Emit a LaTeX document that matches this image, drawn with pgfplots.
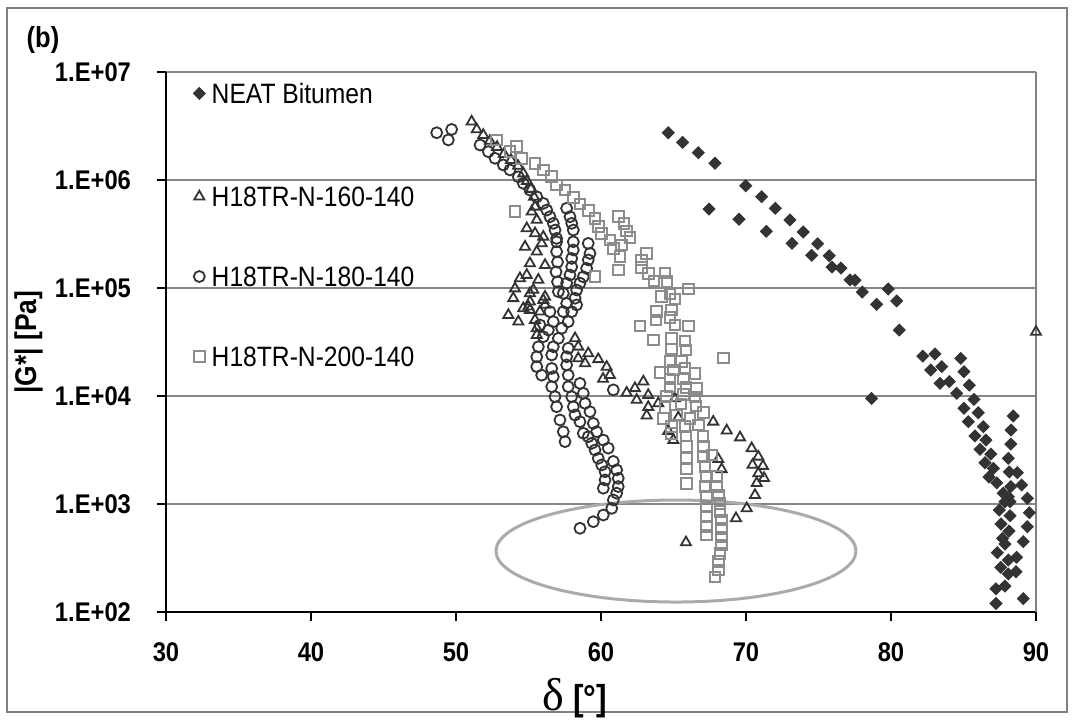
\documentclass[border=0pt]{standalone}
\usepackage{fontspec}
\setmainfont{Liberation Sans}[FakeStretch=0.88]
\newfontfamily\seriffont{Liberation Serif}
\usepackage{pgfplots}
\pgfplotsset{compat=1.18}
\definecolor{dk}{RGB}{51,51,51}
\definecolor{sq}{RGB}{140,140,140}
\definecolor{grd}{RGB}{134,134,134}
\definecolor{ell}{RGB}{170,170,170}
\definecolor{frm}{RGB}{128,128,128}
\pgfplotsset{
  mylegend/.style={
    legend style={draw=none, fill=none, anchor=north west,
      font=\fontsize{14}{16}\selectfont, row sep=30pt,
      nodes={text height=10pt, text depth=0pt, inner ysep=0pt, inner xsep=2.5pt}},
    legend cell align=left,
    legend image code/.code={\path (0pt,0pt) (7.5pt,0pt); \draw[##1] plot coordinates {(4pt,0pt)};},
  }
}
\begin{document}
\begin{tikzpicture}
\useasboundingbox (-83pt,-54pt) rectangle (454.5pt,306pt);
\draw[frm, line width=0.6pt] (-79.5pt,-50pt) rectangle (450.5pt,302pt);
\node[font=\bfseries\fontsize{14.5}{16}\selectfont] at (-61.5pt,286pt) {(b)};
\begin{axis}[
  at={(0pt,0pt)}, anchor=south west,
  width=435pt, height=270pt, scale only axis,
  xmin=30, xmax=90, ymin=100, ymax=1e7, ymode=log,
  xtick={30,40,50,60,70,80,90},
  xticklabels={30,40,50,60,70,80,90},
  ytick={1e2,1e3,1e4,1e5,1e6,1e7},
  yticklabels={1.E+02,1.E+03,1.E+04,1.E+05,1.E+06,1.E+07},
  yminorticks=false, xminorticks=false,
  ymajorgrids, major grid style={grd, line width=0.9pt},
  axis line style={draw=none},
  tick align=outside, xtick pos=left, ytick pos=left,
  major tick length=4.5pt, tick style={black, line width=1.2pt},
  tick label style={font=\bfseries\fontsize{13.5}{15}\selectfont},
  yticklabel style={xshift=-9.5pt},
  xticklabel style={yshift=-7.5pt},
  clip=false,
  every axis x label/.style={at={(axis description cs:0.470,-0.159)}, anchor=center},
  every axis y label/.style={at={(axis description cs:-0.158,0.5)}, rotate=90, anchor=center},
  xlabel={{\seriffont\mdseries\fontsize{23}{26}\selectfont δ} [°]},
  xlabel style={font=\bfseries\fontsize{18}{21}\selectfont},
  ylabel={|G*| [Pa]},
  ylabel style={font=\bfseries\fontsize{15}{17}\selectfont},
  mylegend,
  legend style={at={(axis description cs:0.0213,0.7961)}},
]
\addplot[forget plot, only marks, mark=square*, mark size=2.12pt, mark options={rotate=45, fill=dk, draw=dk}] coordinates {
(64.64,2.74e6)(65.63,2.23e6)(66.71,1.79e6)(67.86,1.43e6)(69.98,8.85e5)(71.08,7.0e5)(72.02,5.47e5)(73.03,4.27e5)(73.95,3.30e5)(74.94,2.57e5)(75.74,1.99e5)(76.55,1.53e5)(77.17,1.19e5)(77.52,1.18e5)(78.02,9.18e4)(79.81,9.8e4)(79.01,7.06e4)(80.39,7.59e4)(80.57,4.08e4)(67.45,5.38e5)(69.52,4.33e5)(71.40,3.35e5)(73.17,2.59e5)(74.53,2.01e5)(75.93,1.56e5)(78.66,9.5e3)
(82.19,2.34e4)(83.03,2.45e4)(84.81,2.23e4)(82.74,1.74e4)(83.50,1.87e4)(85.03,1.68e4)(83.38,1.31e4)(84.02,1.36e4)(85.40,1.26e4)(84.53,1.06e4)(85.72,9.3e3)(85.03,7.7e3)(86.02,7.0e3)(85.33,5.78e3)(86.37,5.2e3)(85.79,4.27e3)(86.55,3.91e3)(86.14,3.21e3)(86.88,2.9e3)(86.48,2.41e3)(87.06,2.14e3)(86.76,1.78e3)(87.29,1.57e3)
(88.43,6.53e3)(88.28,4.84e3)(88.26,3.59e3)(88.09,2.65e3)(88.16,1.98e3)(88.71,1.95e3)(89.01,1.50e3)(88.26,1.45e3)(87.74,1.26e3)(88.09,1.17e3)(89.40,1.13e3)(87.86,1.05e3)(88.21,1.05e3)(89.54,830)(87.47,880)(88.21,780)(89.40,617)(87.59,653)(88.14,562)(87.70,481)(89.12,448)(87.86,426)(87.33,354)(88.66,321)(88.09,303)(87.57,259)(88.62,236)(88.09,225)(87.86,174)(87.24,164)(87.24,120)(89.12,133)
};
\addplot[only marks, mark=triangle, mark size=2.9pt, mark options={draw=dk, line width=0.9pt}] coordinates {
(51.08,3.47e6)(51.43,2.94e6)(51.88,2.61e6)(52.34,2.30e6)(52.83,2.02e6)(53.31,1.74e6)(53.79,1.53e6)(54.28,1.35e6)(54.64,1.15e6)(54.90,9.8e5)(55.17,8.26e5)(55.38,6.97e5)(55.45,5.66e5)(55.22,5.09e5)(55.57,4.27e5)(54.88,3.57e5)(55.45,3.21e5)(56.02,2.98e5)(55.91,2.59e5)(54.76,2.41e5)(55.57,2.17e5)(55.10,1.69e5)(56.14,1.63e5)(54.88,1.32e5)(54.41,1.23e5)(55.68,1.19e5)(54.07,9.9e4)(55.33,9.6e4)(55.10,8.93e4)(56.14,8.3e4)(53.95,8.04e4)(56.02,7.74e4)(55.10,7.47e4)(56.14,6.97e4)(54.99,6.72e4)(54.64,6.49e4)(55.10,6.26e4)(55.79,6.04e4)(53.61,5.62e4)(54.30,4.88e4)(55.45,5.06e4)(55.57,4.24e4)(55.57,3.67e4)
(58.21,3.42e4)(58.43,2.86e4)(58.43,2.23e4)(59.12,2.48e4)(59.81,2.19e4)(58.90,2.01e4)(60.39,1.86e4)(60.62,1.56e4)(60.14,1.44e4)(61.77,1.07e4)(62.34,1.18e4)(62.92,1.36e4)(62.46,9.2e3)(63.26,1.02e4)(63.26,7.9e3)(63.15,6.59e3)(63.95,8.55e3)(65.10,9.5e3)(65.33,6.32e3)(64.64,4.74e3)(64.99,3.91e3)(67.74,5.78e3)(68.67,4.79e3)(69.59,4.13e3)(70.39,3.28e3)(70.85,2.74e3)(71.17,2.25e3)(70.45,2.30e3)(70.85,1.92e3)(71.24,1.74e3)(70.74,1.56e3)(70.62,1.21e3)(70.05,912)(69.31,738)(68.09,2.6e3)(68.32,2.1e3)(65.86,441)(90.0,3.92e4)
};
\addlegendentry{H18TR-N-160-140}
\addplot[only marks, mark=o, mark size=2.75pt, mark options={draw=dk, line width=0.9pt}] coordinates {
(48.67,2.74e6)(49.70,2.94e6)(49.47,2.35e6)(51.66,2.11e6)(52.23,1.83e6)(52.69,1.59e6)(53.26,1.38e6)(53.72,1.24e6)(54.30,1.07e6)(54.64,9.32e5)(55.10,8.07e5)(55.57,7.0e5)(56.02,6.08e5)(56.26,5.27e5)(56.48,4.57e5)(56.71,3.97e5)(56.83,3.44e5)(56.94,2.88e5)(57.63,5.47e5)(57.86,4.57e5)(57.98,3.97e5)(58.09,3.44e5)(59.12,2.59e5)(59.24,2.09e5)(59.12,1.82e5)(59.01,1.52e5)(58.78,1.27e5)(58.55,1.11e5)(58.32,9.58e4)(58.21,8.04e4)(58.32,6.97e4)(57.98,6.04e4)(56.94,2.68e5)(58.09,2.68e5)(56.94,2.17e5)(58.09,2.25e5)(57.98,1.88e5)(57.98,1.57e5)(57.86,1.32e5)(57.63,1.11e5)(57.06,9.25e4)(57.63,7.21e4)(56.48,6.04e4)(57.40,6.04e4)(56.71,4.88e4)(57.74,4.88e4)(55.79,4.54e4)(56.37,4.08e4)(57.29,4.24e4)(56.02,3.54e4)(57.06,3.42e4)(57.74,2.77e4)(55.68,2.86e4)(56.71,2.86e4)(57.63,2.31e4)(55.57,2.31e4)(56.60,2.40e4)(55.57,1.87e4)(56.60,1.80e4)(57.63,1.94e4)(55.91,1.56e4)(56.71,1.51e4)(57.74,1.56e4)(56.60,1.22e4)(57.74,1.22e4)(58.55,1.31e4)(56.83,9.86e3)(57.98,9.86e3)(58.78,1.06e4)(60.85,1.14e4)(56.94,7.96e3)(58.09,7.96e3)(58.90,8.55e3)(57.17,6.0e3)(58.21,6.67e3)(59.24,7.16e3)(57.40,4.67e3)(58.55,5.78e3)(59.47,5.58e3)(58.78,4.52e3)(59.70,4.67e3)(57.52,3.78e3)(59.12,4.20e3)(59.36,3.65e3)(59.59,3.16e3)(59.81,2.65e3)(60.05,2.30e3)(60.28,1.99e3)(60.28,1.67e3)(60.16,1.40e3)(60.16,3.91e3)(60.50,3.29e3)(60.85,2.48e3)(61.08,2.07e3)(61.19,1.73e3)(61.19,1.45e3)(61.08,1.26e3)(60.85,1.09e3)(60.74,912)(60.16,791)(59.47,686)(58.55,596)(57.0,1.74e5)(56.90,1.41e5)(57.0,1.14e5)(57.40,8.93e4)
};
\addlegendentry{H18TR-N-180-140}
\addplot[only marks, mark=square, mark size=2.7pt, mark options={draw=sq, line width=1pt}] coordinates {
(52.81,2.35e6)(53.72,1.83e6)(54.19,2.03e6)(54.53,1.59e6)(55.45,1.41e6)(56.02,1.24e6)(56.60,1.07e6)(56.94,9.0e5)(57.52,8.07e5)(58.09,6.92e5)(58.55,6.0e5)(59.12,5.2e5)(59.59,4.42e5)(59.81,3.70e5)(60.05,3.21e5)(60.62,2.78e5)(60.85,2.33e5)(54.07,5.09e5)(59.59,1.27e5)(61.19,4.57e5)(61.59,3.97e5)(61.77,3.37e5)(62.0,2.94e5)(61.43,2.50e5)(61.31,1.95e5)(61.19,1.47e5)(63.15,2.09e5)(62.81,1.82e5)(62.81,1.56e5)(63.26,1.37e5)(63.66,1.16e5)(64.41,1.38e5)(64.55,1.14e5)(66.02,9.8e4)(64.19,8.3e4)(64.76,8.8e4)(65.10,7.9e4)(63.84,6.04e4)(64.88,6.26e4)(64.76,5.33e4)(63.79,5.06e4)(62.69,4.45e4)(66.02,4.45e4)(65.10,4.54e4)(63.61,3.30e4)(64.88,3.42e4)(65.79,3.23e4)(64.88,2.72e4)(65.86,2.67e4)(68.43,2.25e4)(64.07,1.64e4)(64.76,2.07e4)(65.57,2.08e4)(64.99,1.74e4)(65.79,1.82e4)(64.76,1.44e4)(65.68,1.44e4)(66.48,1.62e4)(64.76,1.21e4)(65.86,1.19e4)(66.60,1.18e4)(64.53,1.0e4)(65.68,1.04e4)(66.48,9.8e3)(64.41,7.84e3)(65.52,8.43e3)(66.55,8.07e3)(67.06,7.03e3)(64.30,6.2e3)(65.22,6.67e3)(66.14,6.2e3)(64.88,5.2e3)(65.79,5.2e3)(66.71,5.38e3)(64.88,4.52e3)(65.86,4.27e3)(67.03,4.2e3)(65.91,3.40e3)(67.08,3.40e3)(67.66,2.84e3)(65.91,2.65e3)(67.06,2.74e3)(65.91,2.14e3)(67.17,2.21e3)(65.91,1.56e3)(67.29,1.79e3)(67.98,1.79e3)(67.17,1.45e3)(67.98,1.45e3)(67.29,1.17e3)(68.09,1.21e3)(67.29,944)(68.21,1.01e3)(67.29,762)(68.21,849)(67.29,617)(68.32,711)(67.29,516)(68.32,596)(68.32,494)(68.32,417)(68.21,350)(68.09,293)(68.09,245)(67.86,211)
};
\addlegendentry{H18TR-N-200-140}
\draw[ell, line width=1.5pt] (axis cs:65.17,367) ellipse [x radius=90pt, y radius=25.5pt];
\draw[black, line width=1.2pt] (rel axis cs:0,1) -- (rel axis cs:0,0) -- (rel axis cs:1,0);
\draw[frm, line width=0.6pt] (rel axis cs:1,0) -- (rel axis cs:1,1);
\end{axis}
\begin{axis}[
  at={(0pt,0pt)}, anchor=south west,
  width=435pt, height=270pt, scale only axis, hide axis,
  xmin=30, xmax=90, ymin=1, ymax=2,
  mylegend,
  legend style={at={(axis description cs:0.0213,0.987)}},
]
\addlegendimage{only marks, mark=square*, mark size=2.12pt, mark options={rotate=45, fill=dk, draw=dk}}
\addlegendentry{NEAT Bitumen}
\end{axis}
\end{tikzpicture}
\end{document}
